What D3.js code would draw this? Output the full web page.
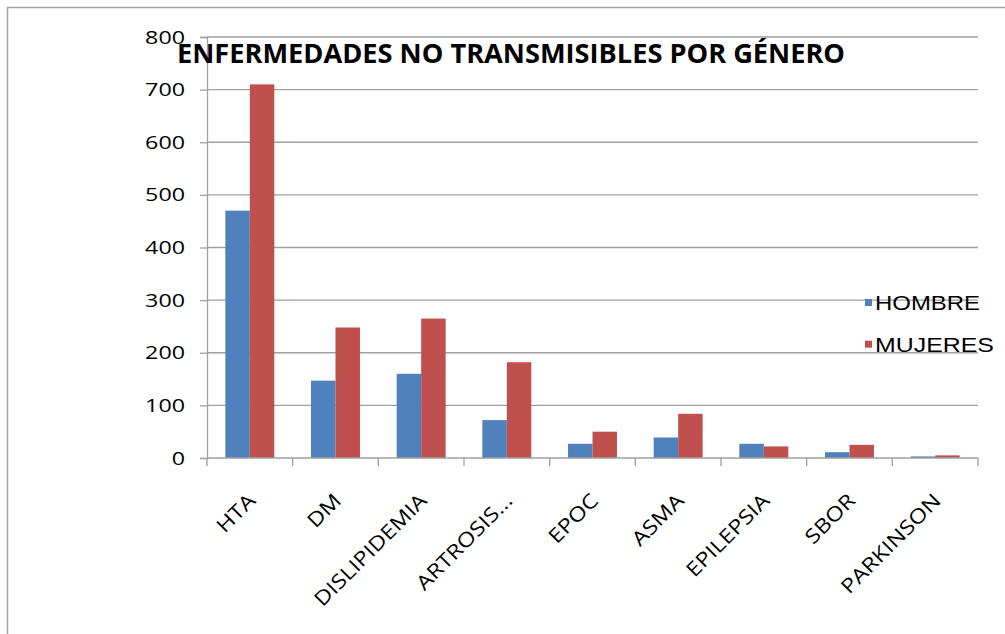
<!DOCTYPE html>
<html lang="es">
<head>
    <meta charset="UTF-8">
    <title>Enfermedades no transmisibles por género</title>
    <script src="https://d3js.org/d3.v7.min.js"></script>
    <style>
        body { margin: 0; background: white; }
        svg text { fill: #000; }
    </style>
</head>
<body>
    <div id="chart"></div>
    <script>
        // Data
        const categories = ["HTA", "DM", "DISLIPIDEMIA", "ARTROSIS...", "EPOC", "ASMA", "EPILEPSIA", "SBOR", "PARKINSON"];
        const hombre = [470, 147, 160, 72, 27, 39, 27, 11, 3];
        const mujeres = [710, 248, 265, 182, 50, 84, 22, 25, 5];
        const seriesNames = ["HOMBRE", "MUJERES"];
        const seriesColors = ["#4F81BD", "#C0504D"];
        const yTicks = [0, 100, 200, 300, 400, 500, 600, 700, 800];

        const width = 1005;
        const height = 634;
        const plot = { left: 207, right: 978, top: 37, bottom: 458 };

        const svg = d3.select("#chart").append("svg")
            .attr("width", width).attr("height", height);

        // outer frame (cropped on right and bottom)
        svg.append("rect")
            .attr("x", 7.5).attr("y", 7.5)
            .attr("width", 1010).attr("height", 640)
            .attr("fill", "white").attr("stroke", "#a6a6a6").attr("stroke-width", 1.5);

        const x = d3.scaleBand().domain(categories).range([plot.left, plot.right]);
        // Excel gap width 150%: band = 3.5 bar widths
        const barW = x.bandwidth() / 3.5;
        const y = d3.scaleLinear().domain([0, 800]).range([plot.bottom, plot.top]);

        // gridlines
        svg.append("g").selectAll("line").data(yTicks.filter(d => d > 0)).join("line")
            .attr("x1", plot.left).attr("x2", plot.right)
            .attr("y1", d => y(d)).attr("y2", d => y(d))
            .attr("stroke", "#a0a0a0").attr("stroke-width", 1.3);

        // bars
        const rows = categories.map((c, i) => ({ c, vals: [hombre[i], mujeres[i]] }));
        const groups = svg.append("g").selectAll("g").data(rows).join("g");
        groups.selectAll("rect").data(d => d.vals.map((v, s) => ({ c: d.c, v, s }))).join("rect")
            .attr("x", d => x(d.c) + barW * 0.75 + d.s * barW)
            .attr("y", d => y(d.v))
            .attr("width", barW)
            .attr("height", d => y(0) - y(d.v))
            .attr("fill", d => seriesColors[d.s]);

        // y axis
        const yAxis = svg.append("g").attr("transform", `translate(${plot.left},0)`)
            .call(d3.axisLeft(y).tickValues(yTicks).tickSize(7).tickPadding(15));
        yAxis.select(".domain").attr("stroke", "#a0a0a0").attr("stroke-width", 1.3);
        yAxis.selectAll(".tick line").attr("stroke", "#a0a0a0").attr("stroke-width", 1.3);
        yAxis.selectAll(".tick text")
            .attr("font-family", "'Open Sans', sans-serif")
            .attr("font-size", 19)
            .attr("fill", "#000")
            .attr("textLength", d => String(d).length * 13.3)
            .attr("lengthAdjust", "spacingAndGlyphs");

        // x axis: baseline + ticks at category boundaries
        const xAxis = svg.append("g");
        xAxis.append("line")
            .attr("x1", plot.left).attr("x2", plot.right)
            .attr("y1", y(0)).attr("y2", y(0))
            .attr("stroke", "#a0a0a0").attr("stroke-width", 1.3);
        const bounds = categories.map(c => x(c)).concat([plot.right]);
        xAxis.selectAll("line.tk").data(bounds).join("line")
            .attr("class", "tk")
            .attr("x1", d => d).attr("x2", d => d)
            .attr("y1", y(0)).attr("y2", y(0) + 8)
            .attr("stroke", "#a0a0a0").attr("stroke-width", 1.3);
        xAxis.selectAll("text").data(categories).join("text")
            .attr("transform", d => `translate(${x(d) + x.bandwidth() / 2 + 7},${y(0) + 44}) rotate(-45)`)
            .attr("text-anchor", "end")
            .attr("font-family", "'Open Sans', sans-serif")
            .attr("font-size", 20)
            .text(d => d)
            .each(function () {
                // labels in the picture are a bit wider than Open Sans
                const len = this.getComputedTextLength();
                d3.select(this).attr("textLength", len * 1.18).attr("lengthAdjust", "spacingAndGlyphs");
            });

        // title
        svg.append("text")
            .attr("x", 177).attr("y", 63)
            .attr("font-family", "'Open Sans', sans-serif")
            .attr("font-weight", "bold")
            .attr("font-size", 26)
            .attr("textLength", 668)
            .attr("lengthAdjust", "spacingAndGlyphs")
            .text("ENFERMEDADES NO TRANSMISIBLES POR GÉNERO");

        // legend
        const legendLens = [105, 119];
        const legend = svg.append("g").selectAll("g").data(seriesNames).join("g")
            .attr("transform", (d, i) => `translate(865,${310 + i * 41.7})`);
        legend.append("rect")
            .attr("x", 0).attr("y", -11).attr("width", 7).attr("height", 7)
            .attr("fill", (d, i) => seriesColors[i]);
        legend.append("text")
            .attr("x", 10).attr("y", 0)
            .attr("font-family", "'Liberation Sans', Arial, sans-serif")
            .attr("font-size", 21)
            .attr("textLength", (d, i) => legendLens[i])
            .attr("lengthAdjust", "spacingAndGlyphs")
            .text(d => d);
    </script>
</body>
</html>
